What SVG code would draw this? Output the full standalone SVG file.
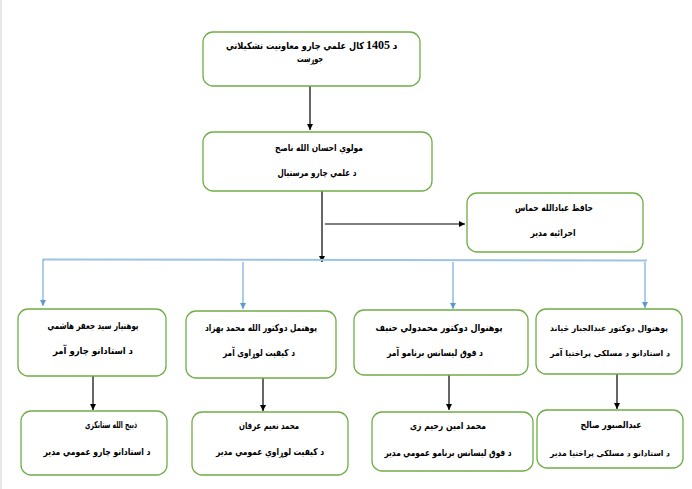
<svg xmlns="http://www.w3.org/2000/svg" width="692" height="489" viewBox="0 0 692 489">
<style>
.box{fill:#fff;stroke:#70ad47;stroke-width:1.3}
.t{font-family:"DejaVu Sans",sans-serif;font-weight:bold;font-size:9.5px;fill:#000;text-anchor:middle;direction:rtl;unicode-bidi:embed}
.s{font-size:8.3px}
.blk{stroke:#000;stroke-width:1.2;fill:none}
.blu{stroke:#5b9bd5;stroke-width:1;fill:none}
</style>
<defs>
<marker id="ab" markerWidth="8" markerHeight="8" refX="6" refY="3" orient="auto" markerUnits="userSpaceOnUse"><path d="M0,0 L6,3 L0,6 z" fill="#000"/></marker>
<marker id="au" markerWidth="8" markerHeight="8" refX="6" refY="3" orient="auto" markerUnits="userSpaceOnUse"><path d="M0,0 L6,3 L0,6 z" fill="#5b9bd5"/></marker>
</defs>
<rect width="692" height="489" fill="#fff"/>
<line x1="1" y1="0" x2="1" y2="489" stroke="#d0d0d0" stroke-width="1"/>
<g id="connectors">
<line class="blk" x1="310" y1="86" x2="310" y2="130" marker-end="url(#ab)"/>
<line class="blk" x1="322" y1="191" x2="322" y2="262" marker-end="url(#ab)"/>
<line class="blk" x1="325" y1="224" x2="465" y2="224" marker-end="url(#ab)"/>
<line x1="43" y1="259.5" x2="647" y2="260.5" stroke="#9dc3e6" stroke-width="2"/>
<line class="blu" x1="43" y1="259" x2="43" y2="306" marker-end="url(#au)"/>
<line class="blu" x1="243" y1="262" x2="243" y2="309" marker-end="url(#au)"/>
<line class="blu" x1="453" y1="262" x2="453" y2="309" marker-end="url(#au)"/>
<line class="blu" x1="645" y1="262" x2="645" y2="308" marker-end="url(#au)"/>
<line class="blk" x1="93" y1="375" x2="93" y2="410" marker-end="url(#ab)"/>
<line class="blk" x1="263" y1="378" x2="263" y2="411" marker-end="url(#ab)"/>
<line class="blk" x1="449" y1="375" x2="449" y2="410" marker-end="url(#ab)"/>
<line class="blk" x1="617" y1="374" x2="617" y2="409" marker-end="url(#ab)"/>
</g>
<g id="top">
<rect class="box" x="203" y="32" width="217" height="54" rx="10"/>
<text class="t" x="395" y="49">د</text>
<text x="378" y="49" font-family="Liberation Serif" font-weight="bold" font-size="12" text-anchor="middle">1405</text>
<text class="t" x="295" y="49" textLength="138" lengthAdjust="spacingAndGlyphs">کال علمي چارو معاونیت تشکیلاتي</text>
<text class="t" x="310" y="62" textLength="26" lengthAdjust="spacingAndGlyphs">جوړښت</text>
</g>
<g id="deputy">
<rect class="box" x="203" y="132" width="229" height="59" rx="10"/>
<text class="t" x="319" y="151" textLength="88" lengthAdjust="spacingAndGlyphs">مولوي احسان الله ناصح</text>
<text class="t" x="317" y="176" textLength="79" lengthAdjust="spacingAndGlyphs">د علمي چارو مرستیال</text>
</g>
<g id="exec">
<rect class="box" x="467" y="193" width="176" height="59" rx="10"/>
<text class="t" x="554" y="211" textLength="78" lengthAdjust="spacingAndGlyphs">حافظ عبادالله حماس</text>
<text class="t" x="553" y="236" textLength="45" lengthAdjust="spacingAndGlyphs">اجرائیه مدیر</text>
</g>
<g id="a1">
<rect class="box" x="18" y="309" width="148" height="67" rx="10"/>
<text class="t" x="93" y="329" textLength="91" lengthAdjust="spacingAndGlyphs">پوهنیار سید جعفر هاشمي</text>
<text class="t" x="93" y="354" textLength="80" lengthAdjust="spacingAndGlyphs">د استادانو چارو آمر</text>
</g>
<g id="b1">
<rect class="box" x="186" y="311" width="150" height="67" rx="10"/>
<text class="t" x="261" y="331" textLength="112" lengthAdjust="spacingAndGlyphs">پوهنمل دوکتور الله محمد بهزاد</text>
<text class="t" x="259" y="356" textLength="72" lengthAdjust="spacingAndGlyphs">د کیفیت لوړاوی آمر</text>
</g>
<g id="c1">
<rect class="box" x="354" y="310" width="174" height="65" rx="10"/>
<text class="t" x="439" y="331" textLength="127" lengthAdjust="spacingAndGlyphs">پوهنوال دوکتور محمدولي حنیف</text>
<text class="t" x="435" y="356" textLength="96" lengthAdjust="spacingAndGlyphs">د فوق لیسانس برنامو آمر</text>
</g>
<g id="d1">
<rect class="box" x="536" y="309" width="146" height="65" rx="10"/>
<text class="t s" x="609" y="331" textLength="118" lengthAdjust="spacingAndGlyphs">پوهنوال دوکتور عبدالجبار څیاند</text>
<text class="t s" x="610" y="356" textLength="120" lengthAdjust="spacingAndGlyphs">د استادانو د مسلکي پراختیا آمر</text>
</g>
<g id="a2">
<rect class="box" x="21" y="411" width="146" height="64" rx="10"/>
<text class="t" x="111" y="428" textLength="52" lengthAdjust="spacingAndGlyphs">ذبیح الله ستانکزی</text>
<text class="t" x="97" y="455" textLength="107" lengthAdjust="spacingAndGlyphs">د استادانو چارو عمومي مدیر</text>
</g>
<g id="b2">
<rect class="box" x="192" y="412" width="156" height="63" rx="10"/>
<text class="t" x="269" y="429" textLength="60" lengthAdjust="spacingAndGlyphs">محمد نعیم عرفان</text>
<text class="t" x="270" y="455" textLength="108" lengthAdjust="spacingAndGlyphs">د کیفیت لوړاوي عمومي مدیر</text>
</g>
<g id="c2">
<rect class="box" x="372" y="412" width="161" height="59" rx="10"/>
<text class="t" x="448" y="429" textLength="76" lengthAdjust="spacingAndGlyphs">محمد امین رحیم زی</text>
<text class="t" x="448" y="456" textLength="127" lengthAdjust="spacingAndGlyphs">د فوق لیسانس برنامو عمومي مدیر</text>
</g>
<g id="d2">
<rect class="box" x="537" y="410" width="146" height="58" rx="10"/>
<text class="t" x="611" y="428" textLength="61" lengthAdjust="spacingAndGlyphs">عبدالصبور صالح</text>
<text class="t s" x="610" y="456" textLength="120" lengthAdjust="spacingAndGlyphs">د استادانو د مسلکي پراختیا مدیر</text>
</g>
</svg>
